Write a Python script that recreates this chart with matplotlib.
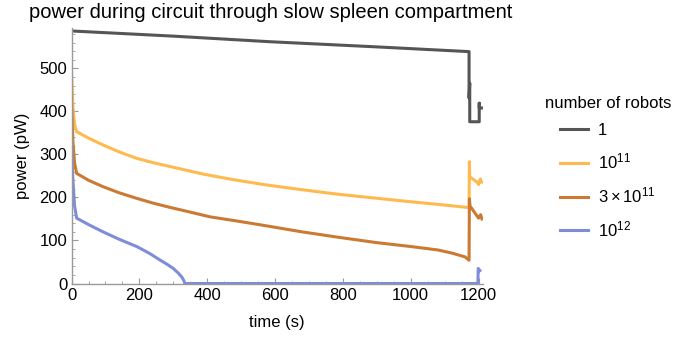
import matplotlib
matplotlib.use("Agg")
import matplotlib.pyplot as plt
from matplotlib.ticker import MultipleLocator

plt.rcParams['font.family'] = ['Liberation Sans', 'DejaVu Sans']
plt.rcParams['mathtext.fontset'] = 'custom'
plt.rcParams['mathtext.rm'] = 'Liberation Sans'
plt.rcParams['mathtext.it'] = 'Liberation Sans:italic'

title = "power during circuit through slow spleen compartment"
legend_title = "number of robots"
labels = ["1", "$10^{11}$", "$3\\times10^{11}$", "$10^{12}$"]
colors = ["#555555", "#FFBA4F", "#CB7A34", "#7D8DDA"]

t_gray = [0, 300, 585, 900, 1172, 1172, 1174, 1174, 1202, 1202, 1202, 1210]
v_gray = [587, 575, 562, 550, 539, 431, 466, 376, 376, 419, 408, 408]

t_orange = [0, 4, 9, 15, 50, 93, 140, 192, 240, 290, 390, 480, 575, 680, 780, 890, 1000, 1080, 1165, 1172,
            1173, 1174, 1195, 1200, 1206, 1203, 1210]
v_orange = [490, 410, 370, 353, 338, 322, 306, 291, 281, 272, 254, 241, 229, 218, 208, 199, 190, 184, 177, 176,
            283, 248, 236, 230, 243, 236, 236]

t_brown = [0, 4, 9, 15, 50, 93, 140, 192, 240, 290, 350, 408, 490, 575, 680, 791, 900, 1000, 1080, 1120, 1160, 1172,
           1173, 1175, 1200, 1206, 1210]
v_brown = [420, 330, 280, 256, 240, 225, 211, 198, 187, 177, 166, 155, 145, 134, 120, 107, 95, 86, 78, 71, 62, 54,
           197, 180, 152, 160, 150]

t_blue = [0, 4, 9, 15, 50, 93, 140, 192, 230, 260, 285, 300, 315, 325, 331, 334, 1198, 1199, 1204]
v_blue = [320, 240, 180, 152, 137, 120, 103, 86, 70, 55, 43, 35, 24, 15, 7, 0, 0, 35, 30]

series = [(t_gray, v_gray), (t_orange, v_orange), (t_brown, v_brown), (t_blue, v_blue)]

fig = plt.figure(figsize=(6.75, 3.42), dpi=100)
ax = fig.add_axes([0.106, 0.171, 0.609, 0.746])
for (t, v), c, lab in zip(series, colors, labels):
    ax.plot(t, v, color=c, lw=2.2, label=lab)

ax.set_xlim(0, 1212)
ax.set_ylim(0, 593)
ax.xaxis.set_major_locator(MultipleLocator(200))
ax.xaxis.set_minor_locator(MultipleLocator(50))
ax.yaxis.set_major_locator(MultipleLocator(100))
ax.yaxis.set_minor_locator(MultipleLocator(20))
for s in ['top', 'right']:
    ax.spines[s].set_visible(False)
for s in ['left', 'bottom']:
    ax.spines[s].set_color('#999999')
    ax.spines[s].set_linewidth(1.0)
ax.tick_params(which='both', direction='in', colors='#999999', labelcolor='black', labelsize=12)
ax.tick_params(which='major', length=4, width=0.8, pad=3)
ax.tick_params(which='minor', length=2.5, width=0.6)
ax.set_xlabel("time (s)", fontsize=12, labelpad=9)
ax.set_ylabel("power (pW)", fontsize=12, labelpad=7)
fig.text(0.043, 0.935, title, fontsize=14.5, ha='left', va='bottom')

fig.text(0.807, 0.696, legend_title, fontsize=12, ha='left', va='center')
leg = ax.legend(loc='upper left', bbox_to_anchor=(1.188, 0.628),
                frameon=False, fontsize=12, handlelength=1.7,
                labelspacing=0.82, handletextpad=0.6, borderpad=0, borderaxespad=0)

fig.savefig("out.png", dpi=100)
